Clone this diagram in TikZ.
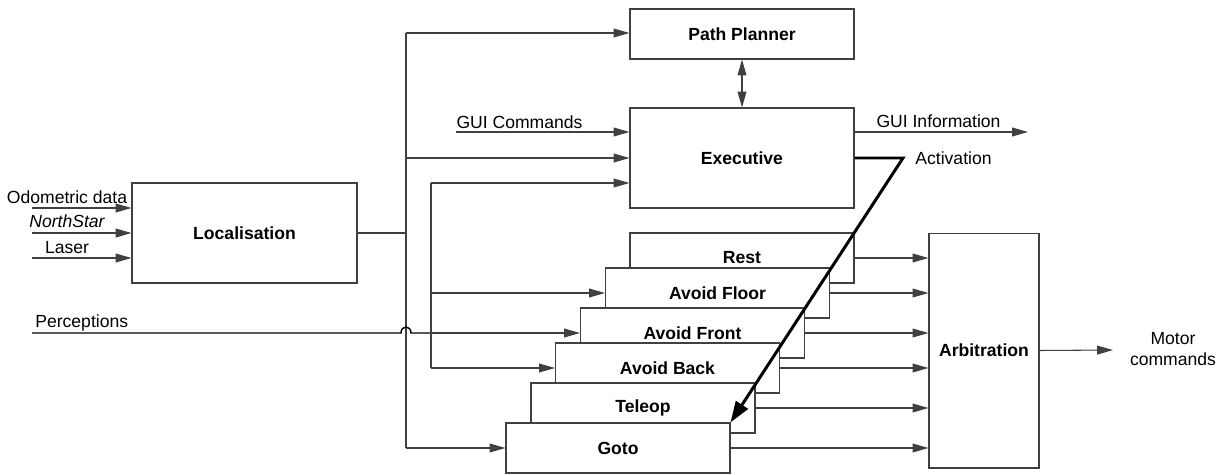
\documentclass[tikz,border=0pt]{standalone}
\usepackage{fontspec}
\setmainfont{Liberation Sans}
\usetikzlibrary{arrows.meta}
\tikzset{
  blk/.style={draw=black!75, fill=white, line width=0.6pt, inner sep=0pt, font=\bfseries, minimum width=4.48cm},
  beh/.style={blk, minimum height=1cm},
  ln/.style={draw=black!75, line width=0.6pt},
  arr/.style={ln, -{Triangle[length=9pt,width=5pt]}},
  biarr/.style={ln, {Triangle[length=9pt,width=5pt]}-{Triangle[length=9pt,width=5pt]}},
  act/.style={draw=black, line width=1.7pt, -{Triangle[length=12pt,width=8pt]}},
  lbl/.style={anchor=base, inner sep=0pt},
}
\begin{document}
\begin{tikzpicture}[x=0.02cm,y=-0.02cm]
\useasboundingbox (0,0) rectangle (1225,474);

%main blocks
\node[blk, minimum height=1cm] (pp) at (742,34) {Path Planner};
\node[blk, minimum height=2cm] (exec) at (742,158) {Executive};
\node[blk, minimum width=4.5cm, minimum height=2cm] (loc) at (244.5,233) {Localisation};
\node[blk, minimum width=2.2cm, minimum height=4.7cm] (arb) at (984,350.5) {Arbitration};

%behaviours, back to front
\node[beh] (rest) at (742,258) {Rest};
\node[beh] (afloor) at (717.5,293) {Avoid Floor};
\node[beh] (afront) at (692.5,333) {Avoid Front};
\node[beh] (aback) at (667.5,368) {Avoid Back};
\node[beh] (teleop) at (643,408) {Teleop};
\node[beh] (goto) at (618,448) {Goto};

%sensor inputs
\coordinate (odo) at (32,208);
\coordinate (ns) at (32,233);
\coordinate (las) at (32,258);
\draw[arr] (odo) -- (odo -| loc.west);
\draw[arr] (ns) -- (ns -| loc.west);
\draw[arr] (las) -- (las -| loc.west);
\node[lbl] (odot) at (67,203) {Odometric data};
\node[lbl] (nst) at (67,227) {\itshape NorthStar};
\node[lbl] (last) at (67,253) {Laser};

%position bus
\coordinate (bustop) at (406,33);
\coordinate (busbot) at (406,448);
\draw[ln] (loc.east) -- (loc.east -| bustop);
\draw[ln] (bustop) -- (busbot);
\draw[arr] (bustop) -- (bustop -| pp.west);
\draw[arr] (bustop |- exec) -- (exec.west);
\draw[arr] (busbot) -- (goto.west);

%perception bus
\coordinate (perc) at (32,333);
\coordinate (pbtop) at (431,183);
\coordinate (pbbot) at (431,368);
\node[lbl, anchor=base west] (perct) at (35,327) {Perceptions};
\draw[ln, draw=black, line width=0.8pt] (perc) -- (401,333) .. controls (401,325) and (411,325) .. (411,333) -- (pbtop |- perc);
\draw[ln] (pbtop) -- (pbbot);
\draw[arr] (pbtop) -- (pbtop -| exec.west);
\draw[arr] (pbtop |- afloor) -- (afloor.west);
\draw[arr] (pbtop |- afront) -- (afront.west);
\draw[arr] (pbbot) -- (aback.west);

%executive links
\coordinate (gui) at (456,132);
\coordinate (guiout) at (1028,132);
\draw[arr] (gui) -- (gui -| exec.west);
\node[lbl] (guit) at (519.5,128) {GUI Commands};
\draw[arr] (guiout -| exec.east) -- (guiout);
\node[lbl] (guiinf) at (938.5,127) {GUI Information};
\draw[biarr] (pp) -- (exec);

%outputs to arbitration
\foreach \b in {rest,afloor,afront,aback,teleop,goto}
  \draw[arr] (\b.east) -- (\b.east -| arb.west);

\coordinate (mc) at (1113,350);
\draw[arr] (arb.east) -- (mc);
\node[align=center, inner sep=0pt] (mct) at (1173,349) {Motor\\commands};

%activation
\coordinate (actk) at (903,158);
\draw[act] (exec.east) -- (actk) -- (goto.north east);
\node[lbl] (actt) at (953.5,164) {Activation};

\end{tikzpicture}
\end{document}
